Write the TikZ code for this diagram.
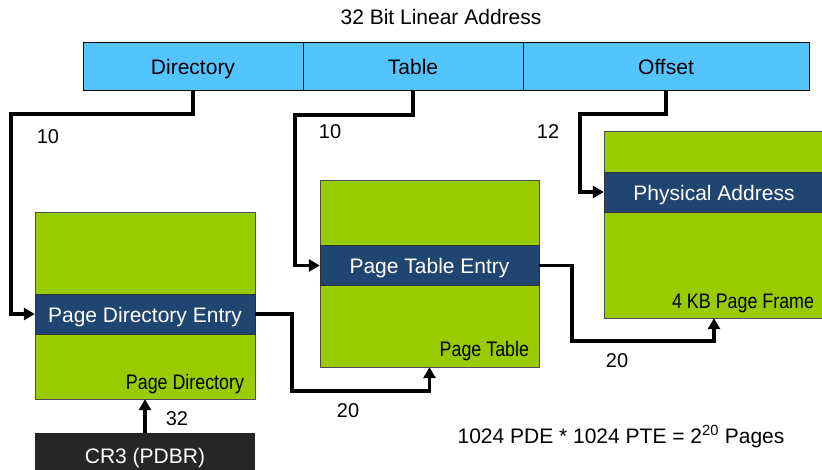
\documentclass[tikz,border=0pt]{standalone}
\usepackage{fontspec}
\setmainfont{Liberation Sans}
\usetikzlibrary{shapes,arrows.meta,positioning,calc}
\definecolor{addrblue}{RGB}{84,196,255}
\definecolor{pagegreen}{RGB}{153,204,0}
\definecolor{entryblue}{RGB}{31,69,112}
\definecolor{regdark}{RGB}{38,38,38}
\begin{document}
\begin{tikzpicture}[x=1pt, y=-1pt]
  \tikzstyle{txt}=[font=\fontsize{21}{24}\selectfont, inner sep=0pt]
  \tikzstyle{even}=[text height=18pt, text depth=1pt]
  \tikzstyle{field}=[rectangle, draw=black, fill=addrblue, minimum height=48pt, txt, even]
  \tikzstyle{page}=[rectangle, draw=black!70, fill=pagegreen, minimum width=220pt, minimum height=187pt]
  \tikzstyle{entry}=[rectangle, draw=black!80, fill=entryblue, text=white, minimum width=220pt, minimum height=40pt, txt, even]
  \tikzstyle{tag}=[anchor=base east, txt]
  \tikzstyle{num}=[font=\fontsize{20}{24}\selectfont]
  \tikzstyle{link}=[line width=3.5pt, -{Triangle[length=11pt,width=12pt]}]
  \useasboundingbox (0,0) rectangle (822,470);

  % Linear address
  \node[txt] (title) at (441,17) {32 Bit Linear Address};
  \node[field, minimum width=220pt] (dir) at (193,66) {Directory};
  \node[field, minimum width=220pt] (tab) at (413,66) {Table};
  \node[field, minimum width=286pt] (off) at (666,66) {Offset};

  % Page directory
  \node[page] (pd) at (145,305.5) {};
  \node[entry] (pde) at (145,314) {Page Directory Entry};
  \node[tag] (pdname) at ([xshift=-11pt,yshift=10pt]pd.south east) {\scalebox{0.85}[1]{Page Directory}};

  % Page table
  \node[page, minimum width=219pt] (pt) at (429.5,273.5) {};
  \node[entry, minimum width=219pt] (pte) at (429.5,265.5) {Page Table Entry};
  \node[tag] (ptname) at ([xshift=-10pt,yshift=11pt]pt.south east) {\scalebox{0.85}[1]{Page Table}};

  % Page frame
  \node[page] (pf) at (714,224.5) {};
  \node[entry] (pa) at (714,192) {Physical Address};
  \node[tag] (pfname) at ([xshift=-10pt,yshift=10pt]pf.south east) {\scalebox{0.85}[1]{4 KB Page Frame}};

  % CR3
  \node[rectangle, fill=regdark, text=white, minimum width=220pt, minimum height=44pt, txt, even] (cr3) at (145,455) {CR3 (PDBR)};

  % Verbindungen
  \draw[link] (dir.south) -- ++(0,24) -| ([xshift=-24pt]pde.west) -- (pde.west);
  \draw[link] (tab.south) -- ++(0,25) -| ([xshift=-25pt]pte.west) -- (pte.west);
  \draw[link] (off.south) -- ++(0,24) -| ([xshift=-24pt]pa.west) -- (pa.west);
  \draw[link] (pde.east) -- ++(37,0) |- ($(pt.south)+(0,24)$) -- (pt.south);
  \draw[link] (pte.east) -- ++(33,0) |- ($(pf.south)+(0,23)$) -- (pf.south);
  \draw[link] (cr3.north) -- (pd.south);

  % Bitbreiten
  \node[num] (n1) at (48,137) {10};
  \node[num] (n2) at (330,132) {10};
  \node[num] (n3) at (548,132) {12};
  \node[num] (n4) at (348,411) {20};
  \node[num] (n5) at (617,361) {20};
  \node[num] (n6) at (177,419) {32};

  % Summe
  \node[txt, anchor=base] (sum) at (621,443) {1024 PDE * 1024 PTE = 2\textsuperscript{20} Pages};
\end{tikzpicture}
\end{document}
